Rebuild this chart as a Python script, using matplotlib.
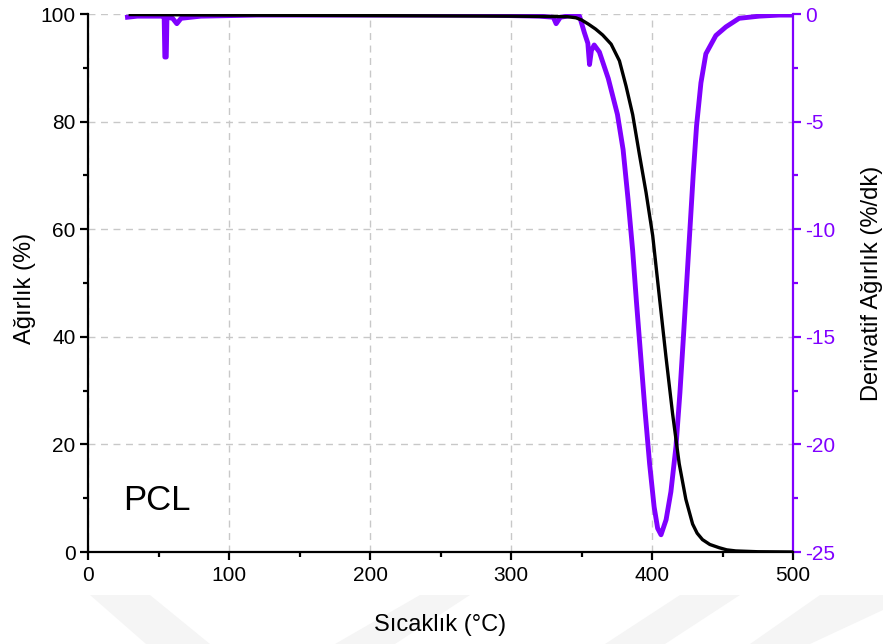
import matplotlib
matplotlib.use("Agg")
import matplotlib.pyplot as plt
from matplotlib.patches import Polygon
from matplotlib.ticker import MultipleLocator

plt.rcParams['font.family'] = ['Liberation Sans', 'DejaVu Sans']
plt.rcParams['axes.unicode_minus'] = False

# Weight (TGA) curve
tga_temp = [30, 100, 200, 300, 340, 346, 350, 355, 360, 365, 371, 376.9, 381.6,
            386.3, 391, 395.8, 400.5, 405.2, 409.9, 414.6, 419.3, 424, 428.8, 432,
            435.8, 441, 447.6, 453, 459.4, 475, 500]
tga_weight = [99.9, 99.8, 99.7, 99.6, 99.5, 99.3, 98.9, 98.1, 97.2, 96.1, 94.4, 91.3,
              86.6, 81.3, 74.0, 66.8, 58.8, 47.5, 36.3, 25.7, 16.4, 9.8, 5.2, 3.5,
              2.3, 1.4, 0.8, 0.4, 0.2, 0.05, 0.0]

# Derivative weight (DTG) curve
dtg_temp = [28, 35, 45, 52, 54, 54.5, 55.5, 56, 60, 63, 66, 80, 120, 200, 280, 320,
            330, 332, 335, 345, 348.6, 352, 354.5, 355.7, 357, 359, 362.7, 369,
            375.5, 379.5, 383, 386.3, 389, 392, 395, 398.3, 401.5, 404, 406.4,
            410, 413.4, 417, 419.8, 422.2, 424.5, 426.9, 429.2, 431.6, 434.7, 438.2,
            445.3, 452.4, 461.8, 476, 490, 500]
dtg_value = [-0.15, -0.1, -0.1, -0.1, -0.1, -2.0, -2.0, -0.15, -0.2, -0.45, -0.2, -0.1,
             -0.05, -0.05, -0.05, -0.1, -0.15, -0.45, -0.15, -0.05, -0.1, -0.86, -1.36,
             -2.35, -1.7, -1.44, -1.77, -3.0, -4.67, -6.3, -8.6, -11.0, -13.4, -15.9,
             -18.4, -20.9, -22.9, -23.9, -24.2, -23.5, -22.2, -20.1, -17.6, -15.1,
             -12.6, -10.0, -7.5, -5.2, -3.2, -1.85, -1.0, -0.6, -0.2, -0.1, -0.05, -0.05]

PURPLE = '#8000ff'

fig = plt.figure(figsize=(8.83, 6.44), dpi=100)

# faint watermark bands
wm = [[(90, 595), (150, 595), (210, 644), (146, 644)],
      [(420, 595), (470, 595), (395, 644), (335, 644)],
      [(680, 595), (740, 595), (665, 644), (605, 644)],
      [(820, 595), (883, 595), (883, 610), (810, 644), (750, 644)]]
for pts in wm:
    fig.patches.append(Polygon([(x / 883, 1 - y / 644) for x, y in pts], closed=True,
                               transform=fig.transFigure, facecolor='#f5f5f5',
                               edgecolor='none', zorder=-5))

ax2 = fig.add_axes([88 / 883, 1 - 552 / 644, (793 - 88) / 883, (552 - 14) / 644])
ax = ax2.twinx()
ax.yaxis.tick_left()
ax.yaxis.set_label_position('left')
ax2.yaxis.tick_right()
ax2.yaxis.set_label_position('right')

ax2.plot(dtg_temp, dtg_value, color=PURPLE, lw=3.5, solid_joinstyle='round')
ax.plot(tga_temp, tga_weight, color='black', lw=2.4, solid_joinstyle='round')

ax.set_xlim(0, 500)
ax.set_ylim(0, 100)
ax2.set_ylim(-25, 0)

ax2.set_axisbelow(True)
ax2.grid(True, color='#c8c8c8', ls=(0, (5, 4)), lw=1)
ax2.yaxis.set_major_locator(MultipleLocator(5))
ax2.yaxis.set_minor_locator(MultipleLocator(2.5))
ax.yaxis.set_major_locator(MultipleLocator(20))
ax.yaxis.set_minor_locator(MultipleLocator(10))
ax2.xaxis.set_major_locator(MultipleLocator(100))
ax2.xaxis.set_minor_locator(MultipleLocator(50))

for a in (ax, ax2):
    a.spines['top'].set_visible(False)
    for s in a.spines.values():
        s.set_linewidth(1.6)
ax.spines['right'].set_visible(False)
ax2.spines['left'].set_visible(False)
ax2.spines['right'].set_color(PURPLE)
ax.spines['bottom'].set_visible(False)

ax2.tick_params(axis='x', which='major', direction='out', length=6, width=1.6,
                labelsize=15, colors='black', pad=4)
ax2.tick_params(axis='x', which='minor', direction='out', length=3.5, width=1.6)
ax.tick_params(axis='y', which='major', direction='out', length=6, width=1.6,
               labelsize=15, pad=3)
ax.tick_params(axis='y', which='minor', direction='out', length=3.5, width=1.6)
ax2.tick_params(axis='y', which='major', direction='out', length=6, width=1.6,
                labelsize=15, colors=PURPLE, pad=3)
ax2.tick_params(axis='y', which='minor', direction='out', length=3.5, width=1.6,
                colors=PURPLE)

ax2.set_xlabel('Sıcaklık (°C)', fontsize=17, va='top')
ax2.xaxis.set_label_coords(0.5, -0.115)
ax.set_ylabel('Ağırlık (%)', fontsize=17, va='center')
ax.yaxis.set_label_coords(-0.09, 0.49)
ax2.set_ylabel('Derivatif Ağırlık (%/dk)', fontsize=17, va='center', rotation=90)
ax2.yaxis.set_label_coords(1.112, 0.5)

ax.text(24.8, 7.8, 'PCL', fontsize=25, ha='left', va='baseline')

fig.savefig('out.png', dpi=100)
